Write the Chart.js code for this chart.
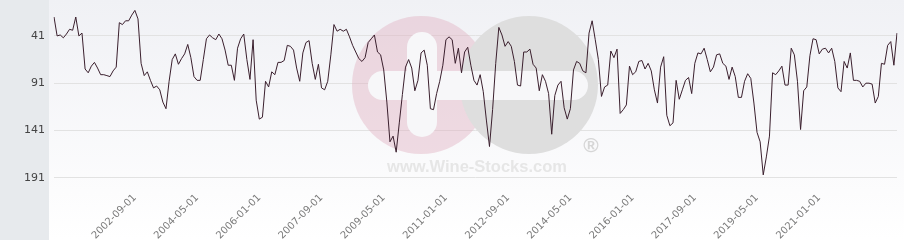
<!DOCTYPE html>
<html><head><meta charset="utf-8">
<script src="https://cdn.jsdelivr.net/npm/chart.js@4"></script>
<style>html,body{margin:0;padding:0;background:#fff}#wrap{width:904px;height:240px;position:relative}</style>
</head><body><div id="wrap"><canvas id="c" width="904" height="240"></canvas></div>
<script>
const startYear = 2000, startMonth = 7;
const values = [
21,41,40,43,39,34,35,21,41,38,76,80,73,69,75,82,82,83,84,78,
74,27,29,25,25,19,14,23,70,83,79,88,96,94,98,111,118,89,66,60,
71,65,60,50,64,84,88,88,66,44,40,43,45,39,44,56,72,72,88,54,
44,39,66,87,45,109,129,127,89,95,79,82,69,69,67,51,52,56,75,89,
59,48,46,70,87,71,96,98,89,61,29,36,34,36,34,42,51,58,65,68,
64,48,44,40,58,61,77,111,153,147,164,133,103,74,66,75,99,88,59,56,
72,118,119,102,89,72,45,42,45,70,54,80,58,53,72,88,93,82,100,130,
158,119,70,32,40,52,47,52,68,93,94,58,58,55,71,75,99,82,89,102,
145,104,93,89,117,129,118,77,68,70,78,80,38,25,45,66,105,95,93,57,
64,55,123,119,114,73,82,79,68,67,76,70,78,98,112,74,63,125,136,133,
88,108,98,88,85,102,70,59,60,54,66,79,74,61,60,70,73,87,74,84,
106,106,89,81,86,112,143,153,188,169,147,80,82,78,73,93,93,54,61,89,
140,99,95,62,44,45,60,55,54,59,54,68,96,100,68,75,59,88,88,89,
95,91,91,92,112,105,70,71,51,47,72,38
];
const yTicks = [41, 91, 141, 191];
const xTickLabels = ['2002-09-01','2004-05-01','2006-01-01','2007-09-01','2009-05-01','2011-01-01','2012-09-01','2014-05-01','2016-01-01','2017-09-01','2019-05-01','2021-01-01'];
const categories = values.map((_, i) => {
  const m = startMonth - 1 + i;
  const y = startYear + Math.floor(m / 12);
  const mm = (m % 12) + 1;
  return y + '-' + String(mm).padStart(2, '0') + '-01';
});

const bgPlugin = {
  id: 'bg',
  beforeDraw(chart) {
    const ctx = chart.ctx, W = chart.width, H = chart.height;
    ctx.save();
    const g = ctx.createLinearGradient(0, 0, 0, H);
    g.addColorStop(0, '#f0f1f5');
    g.addColorStop(0.8, '#fcfcfd');
    g.addColorStop(1, '#ffffff');
    ctx.fillStyle = g;
    ctx.fillRect(0, 0, W, H);
    ctx.fillStyle = '#e7eaed';
    ctx.fillRect(0, 0, 49, H);
    ctx.restore();
  },
  beforeDatasetsDraw(chart) {
    const ctx = chart.ctx;
    ctx.save();
    ctx.fillStyle = 'rgba(225,175,190,0.42)';
    ctx.beginPath(); ctx.arc(421, 85, 69, 0, Math.PI * 2); ctx.fill();
    ctx.fillStyle = '#dedede';
    ctx.beginPath(); ctx.arc(529, 85, 69, 0, Math.PI * 2); ctx.fill();
    ctx.fillStyle = '#f7f7f9';
    const rr = (x, y, w, h) => {
      const r = Math.min(w, h) / 2;
      ctx.beginPath();
      ctx.roundRect(x, y, w, h, r);
      ctx.fill();
    };
    rr(368, 71, 220, 29);
    rr(407, 32, 30, 105);
    ctx.fillStyle = '#e6e6e6';
    ctx.font = 'bold 16.5px "Liberation Sans", Arial, sans-serif';
    ctx.textAlign = 'center';
    ctx.textBaseline = 'alphabetic';
    ctx.fillText('www.Wine-Stocks.com', 477, 172);
    ctx.fillStyle = '#d6d6d6';
    ctx.font = 'bold 21px "Liberation Sans", Arial, sans-serif';
    ctx.textBaseline = 'middle';
    ctx.fillText('\u00AE', 591, 146);
    ctx.restore();
  }
};

new Chart(document.getElementById('c'), {
  type: 'line',
  data: {
    labels: categories,
    datasets: [{
      data: values,
      borderColor: '#3a1f2d',
      borderWidth: 1,
      pointRadius: 0,
      tension: 0,
      fill: false
    }]
  },
  options: {
    responsive: false,
    devicePixelRatio: 1,
    animation: false,
    layout: { padding: { left: 0, right: 7, top: 0, bottom: 0 } },
    plugins: { legend: { display: false }, tooltip: { enabled: false } },
    scales: {
      x: {
        type: 'category',
        grid: { display: false, drawTicks: false },
        border: { display: false },
        ticks: {
          autoSkip: false,
          minRotation: 45,
          maxRotation: 45,
          padding: 2,
          color: '#7a7a7a',
          font: { family: 'DejaVu Sans', size: 10 },
          callback: (v, i) => xTickLabels.includes(categories[i]) ? categories[i] : ''
        },
        afterFit: (s) => { s.height = 50; s.paddingLeft = 0; s.paddingRight = 0; }
      },
      y: {
        reverse: true,
        min: 3,
        max: 204,
        afterBuildTicks: (s) => { s.ticks = yTicks.map(v => ({ value: v })); },
        grid: { color: '#e2e2e2', drawTicks: false },
        border: { display: false },
        ticks: {
          color: '#444',
          padding: 9,
          font: { family: 'DejaVu Sans', size: 11 }
        },
        afterFit: (s) => { s.width = 54; s.paddingTop = 0; s.paddingBottom = 0; }
      }
    }
  },
  plugins: [bgPlugin]
});
</script>
</body></html>
